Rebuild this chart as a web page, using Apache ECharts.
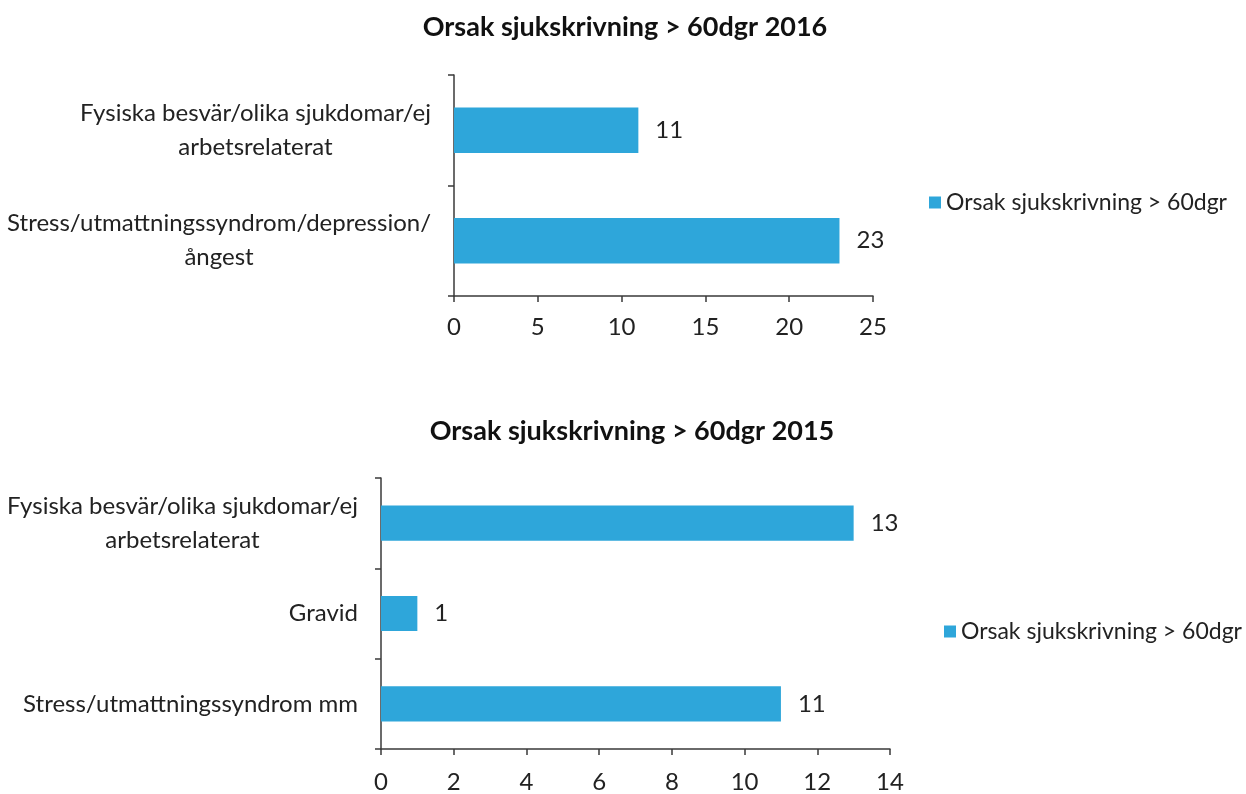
<!DOCTYPE html>
<html>
<head>
<meta charset="utf-8">
<script src="https://cdn.jsdelivr.net/npm/echarts@6/dist/echarts.min.js"></script>
<style>html,body{margin:0;padding:0;background:#fff}#c{width:1246px;height:794px}</style>
</head>
<body>
<div id="c"></div>
<script>
const seriesName = 'Orsak sjukskrivning > 60dgr';
const title2016 = 'Orsak sjukskrivning > 60dgr 2016';
const title2015 = 'Orsak sjukskrivning > 60dgr 2015';
const categories2016 = ['Stress/utmattningssyndrom/depression/\nångest', 'Fysiska besvär/olika sjukdomar/ej\narbetsrelaterat'];
const values2016 = [23, 11];
const categories2015 = ['Stress/utmattningssyndrom mm', 'Gravid', 'Fysiska besvär/olika sjukdomar/ej\narbetsrelaterat'];
const values2015 = [11, 1, 13];

const FONT = 'Lato';
const FS = 24;
const barColor = '#2ea6da';
const axisColor = '#3a3a3a';

function catLabel(v) {
  return v.split('\n').map(l => '{c|' + l + '}').join('\n');
}
const catAxisCommon = {
  type: 'category',
  axisLine: {lineStyle: {color: axisColor, width: 1.5}},
  axisTick: {show: true, length: 6, lineStyle: {color: axisColor, width: 1.5}},
  axisLabel: {
    formatter: catLabel, color: '#222', fontFamily: FONT, fontSize: FS, margin: 23,
    rich: {c: {align: 'center', fontFamily: FONT, fontSize: FS, color: '#222', lineHeight: 34}}
  }
};
const valAxisCommon = {
  type: 'value',
  splitLine: {show: false},
  axisLine: {show: true, lineStyle: {color: axisColor, width: 1.5}},
  axisTick: {show: true, length: 6, lineStyle: {color: axisColor, width: 1.5}},
  axisLabel: {color: '#222', fontFamily: FONT, fontSize: FS, margin: 19}
};
const labelCommon = {show: true, position: 'right', distance: 17, color: '#222', fontFamily: FONT, fontSize: FS};
const legendText = {fontFamily: FONT, fontSize: 23, color: '#222'};

const chart = echarts.init(document.getElementById('c'), null, {renderer: 'canvas'});
chart.setOption({
  animation: false,
  backgroundColor: '#fff',
  title: [
    {text: title2016, left: 625, top: 14, padding: 0, textAlign: 'center', textStyle: {fontFamily: FONT, fontSize: 27, fontWeight: 'bold', color: '#111'}},
    {text: title2015, left: 632, top: 418, padding: 0, textAlign: 'center', textStyle: {fontFamily: FONT, fontSize: 27, fontWeight: 'bold', color: '#111'}}
  ],
  legend: [
    {data: [seriesName], left: 929, top: 191, padding: 0, icon: 'rect', itemWidth: 12, itemHeight: 12, itemGap: 6, textStyle: legendText},
    {data: [seriesName], left: 944, top: 620, padding: 0, icon: 'rect', itemWidth: 12, itemHeight: 12, itemGap: 6, textStyle: legendText}
  ],
  grid: [
    {left: 454, width: 419, top: 75, height: 221},
    {left: 381, width: 509, top: 478, height: 274}
  ],
  xAxis: [
    Object.assign({}, valAxisCommon, {gridIndex: 0, min: 0, max: 25, interval: 5}),
    Object.assign({}, valAxisCommon, {gridIndex: 1, min: 0, max: 14, interval: 2,
      axisLabel: Object.assign({}, valAxisCommon.axisLabel, {margin: 21})})
  ],
  yAxis: [
    Object.assign({}, catAxisCommon, {gridIndex: 0, data: categories2016}),
    Object.assign({}, catAxisCommon, {gridIndex: 1, data: categories2015})
  ],
  series: [
    {name: seriesName, type: 'bar', xAxisIndex: 0, yAxisIndex: 0, data: values2016, barWidth: '41%',
     itemStyle: {color: barColor}, label: labelCommon},
    {name: seriesName, type: 'bar', xAxisIndex: 1, yAxisIndex: 1, data: values2015, barWidth: '39%',
     itemStyle: {color: barColor}, label: labelCommon}
  ]
});
</script>
</body>
</html>
